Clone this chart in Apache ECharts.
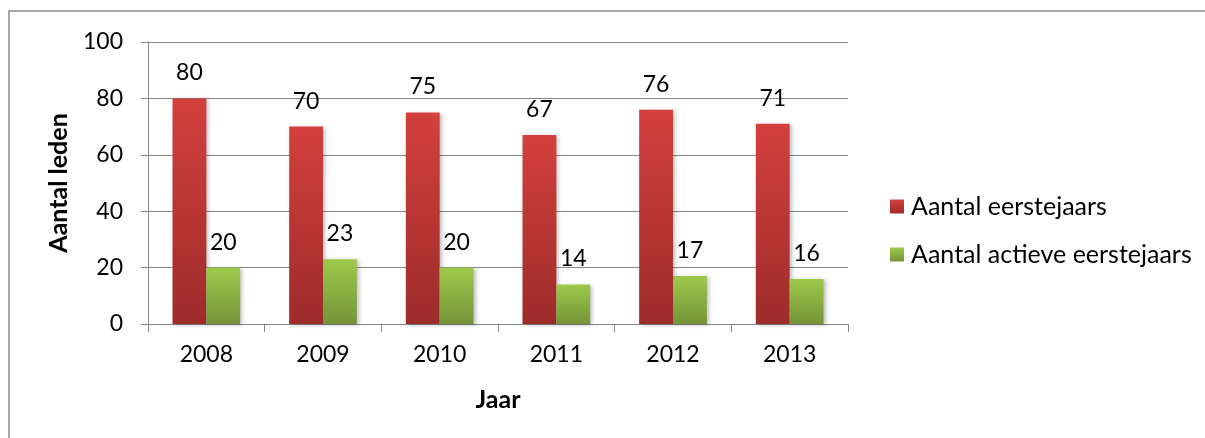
<!DOCTYPE html>
<html>
<head>
<meta charset="utf-8">
<script src="https://cdn.jsdelivr.net/npm/echarts@6/dist/echarts.min.js"></script>
<style>
html,body{margin:0;padding:0;background:#fff;}
#c{width:1205px;height:438px;}
</style>
</head>
<body>
<div id="c"></div>
<script>
var categories = ['2008','2009','2010','2011','2012','2013'];
var eerstejaars = [80, 70, 75, 67, 76, 71];
var actieveEerstejaars = [20, 23, 20, 14, 17, 16];
var yTicks = [0, 20, 40, 60, 80, 100];

var FONT = 'Lato';
var chart = echarts.init(document.getElementById('c'));

function grad(top, bottom) {
  return new echarts.graphic.LinearGradient(0, 0, 0, 1, [
    {offset: 0, color: top}, {offset: 1, color: bottom}
  ]);
}

var labelStyle = {
  show: true, position: 'top', distance: 14,
  color: '#000', fontFamily: FONT, fontSize: 23
};

chart.setOption({
  animation: false,
  textStyle: {fontFamily: FONT, color: '#000'},
  graphic: [{
    type: 'rect', silent: true,
    shape: {x: 9, y: 11, width: 1300, height: 600},
    style: {fill: 'none', stroke: '#8a8a8a', lineWidth: 1.5}
  }],
  grid: {left: 148, right: 357, top: 42, bottom: 114},
  legend: {
    orient: 'vertical', left: 885, top: 189,
    itemWidth: 14, itemHeight: 14, itemGap: 23,
    icon: 'rect',
    textStyle: {fontFamily: FONT, fontSize: 25, color: '#000', padding: [0,0,0,2]},
    data: ['Aantal eerstejaars', 'Aantal actieve eerstejaars']
  },
  xAxis: {
    type: 'category', data: categories,
    name: 'Jaar', nameLocation: 'middle', nameGap: 63,
    nameTextStyle: {fontFamily: FONT, fontSize: 25, fontWeight: 'bold', color: '#000'},
    axisLine: {lineStyle: {color: '#868686', width: 1}},
    axisTick: {show: true, length: 8, lineStyle: {color: '#868686'}},
    axisLabel: {margin: 19, color: '#000', fontFamily: FONT, fontSize: 23}
  },
  yAxis: {
    type: 'value', min: 0, max: 100, interval: 20,
    name: 'Aantal leden', nameLocation: 'middle', nameGap: 77,
    nameTextStyle: {fontFamily: FONT, fontSize: 25, fontWeight: 'bold', color: '#000'},
    axisLine: {show: true, lineStyle: {color: '#868686', width: 1}},
    axisTick: {show: true, length: 7, lineStyle: {color: '#868686'}},
    splitLine: {lineStyle: {color: '#868686', width: 1}},
    axisLabel: {
      margin: 25, color: '#000', fontFamily: FONT, fontSize: 23,
      formatter: function (v) { return yTicks.indexOf(v) >= 0 ? String(v) : ''; }
    }
  },
  series: [{
    name: 'Aantal eerstejaars', type: 'bar', data: eerstejaars,
    barGap: '0%', barCategoryGap: '42%',
    itemStyle: {
      color: grad('#d3403d', '#9e2b2b'),
      shadowColor: 'rgba(0,0,0,0.25)', shadowBlur: 4, shadowOffsetX: 2, shadowOffsetY: 1
    },
    label: labelStyle
  }, {
    name: 'Aantal actieve eerstejaars', type: 'bar', data: actieveEerstejaars,
    barGap: '0%', barCategoryGap: '42%',
    itemStyle: {
      color: grad('#9dc94b', '#749438'),
      shadowColor: 'rgba(0,0,0,0.25)', shadowBlur: 4, shadowOffsetX: 2, shadowOffsetY: 1
    },
    label: labelStyle
  }]
});
</script>
</body>
</html>
